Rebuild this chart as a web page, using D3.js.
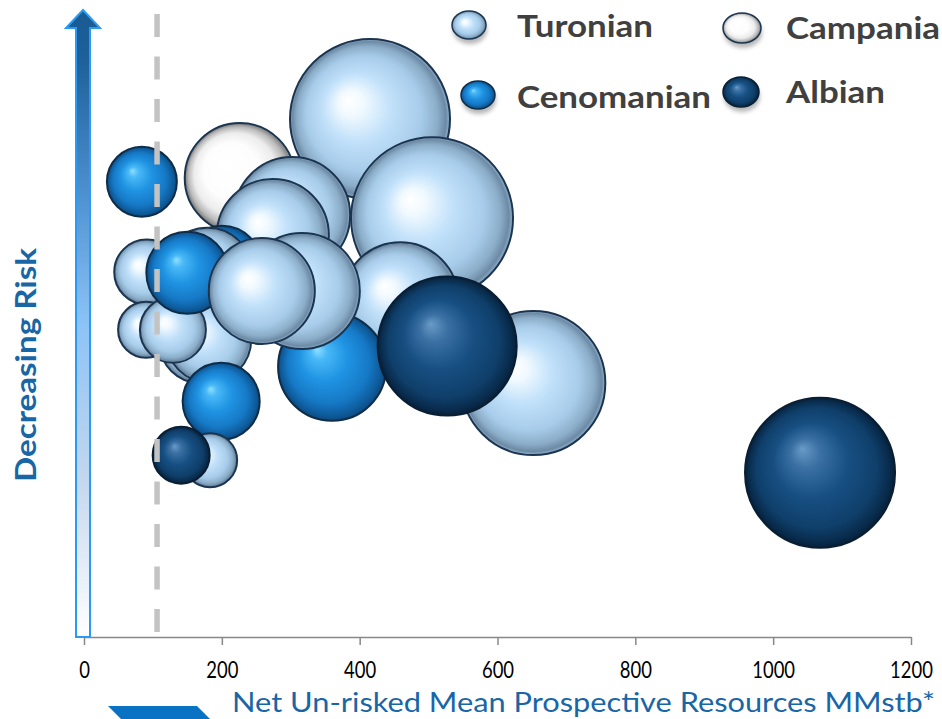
<!DOCTYPE html>
<html>
<head>
<meta charset="utf-8">
<script src="https://cdn.jsdelivr.net/npm/d3@7"></script>
<style>
  body { margin: 0; background: #ffffff; }
  svg { display: block; }
</style>
</head>
<body>
<svg id="chart" width="942" height="719"></svg>
<script>
// Prospects, listed in drawing order (back to front)
const stages = [
  "Campania", "Turonian", "Turonian", "Turonian", "Turonian", "Cenomanian",
  "Turonian", "Cenomanian", "Cenomanian", "Turonian", "Turonian", "Turonian",
  "Turonian", "Turonian", "Turonian", "Turonian", "Cenomanian", "Turonian",
  "Cenomanian", "Turonian", "Albian", "Turonian", "Albian", "Albian"
];
// Net un-risked mean prospective resources, MMstb
const resources = [
  226, 415, 302, 274, 505, 84,
  459, 360, 200, 179, 91, 168,
  181, 90, 129, 316, 150, 258,
  199, 652, 527, 183, 141, 1068
];
// Position on the decreasing-risk scale (0 = highest risk)
const riskScore = [
  73.2, 82.6, 67.3, 64.1, 66.8, 72.6,
  53.7, 43.1, 59.2, 58.1, 58.2, 46.9,
  47.4, 49.0, 49.0, 55.2, 58.1, 55.2,
  37.6, 40.5, 46.4, 28.2, 29.0, 26.2
];
// Bubble size values
const sizes = [
  473, 1000, 526, 490, 1025, 191,
  526, 456, 250, 316, 165, 250,
  282, 122, 170, 526, 263, 439,
  232, 810, 755, 114, 127, 879
];

const legendStages = ["Turonian", "Campania", "Cenomanian", "Albian"];
const xTicks = [0, 200, 400, 600, 800, 1000, 1200];
const economicCutoff = 106;
const xTitle = "Net Un-risked Mean Prospective Resources MMstb*";
const yTitle = "Decreasing Risk";

const bubbles = stages.map((s, i) => ({
  stage: s, x: resources[i], y: riskScore[i], size: sizes[i]
}));

const svg = d3.select("#chart");
const defs = svg.append("defs");

const x = d3.scaleLinear().domain([0, 1200]).range([84, 911]);
const y = d3.scaleLinear().domain([0, 100]).range([637, 10]);
const r = d3.scaleSqrt().domain([0, 1000]).range([0, 80]);

// Sphere shading per stage
const shading = {
  Turonian: { fx: 0.36, fy: 0.38, stops: [
    [0, "#ffffff"], [0.15, "#f2faff"], [0.42, "#c2e1fa"], [0.72, "#a7ccea"],
    [0.88, "#8badc8"], [0.96, "#6d8aa5"], [1, "#93b3cf"]], stroke: "#1b3550" },
  Campania: { fx: 0.34, fy: 0.36, stops: [
    [0, "#ffffff"], [0.5, "#fdfdfd"], [0.75, "#ececec"], [0.9, "#b9b9b9"],
    [0.97, "#8a8a8a"], [1, "#a8a8a8"]], stroke: "#1b3550" },
  Cenomanian: { fx: 0.36, fy: 0.34, stops: [
    [0, "#8fe0ff"], [0.15, "#48b8f7"], [0.45, "#1f93e2"], [0.75, "#1679c6"],
    [0.92, "#0e5c9c"], [1, "#0b4a80"]], stroke: "#102d48" },
  Albian: { fx: 0.38, fy: 0.34, stops: [
    [0, "#6a9bc8"], [0.2, "#3a70a3"], [0.5, "#174f82"], [0.8, "#0f3f6a"],
    [0.95, "#082a4a"], [1, "#061f38"]], stroke: "#0a1e33" }
};

Object.entries(shading).forEach(([name, s]) => {
  const g = defs.append("radialGradient")
    .attr("id", "ball-" + name)
    .attr("cx", 0.5).attr("cy", 0.5).attr("r", 0.5)
    .attr("fx", s.fx).attr("fy", s.fy);
  s.stops.forEach(([o, c]) => g.append("stop").attr("offset", o).attr("stop-color", c));
});

// Gradient for the vertical risk arrow
const arrowGrad = defs.append("linearGradient")
  .attr("id", "arrowFill").attr("x1", 0).attr("y1", 0).attr("x2", 0).attr("y2", 1);
[[0, "#195a92"], [0.08, "#1d609b"], [0.3, "#4f92d2"], [0.5, "#8cc3f6"],
 [0.75, "#c4d7ee"], [1, "#ffffff"]].forEach(([o, c]) =>
  arrowGrad.append("stop").attr("offset", o).attr("stop-color", c));

const shadow = defs.append("filter").attr("id", "softShadow")
  .attr("x", "-50%").attr("y", "-50%").attr("width", "200%").attr("height", "200%");
shadow.append("feGaussianBlur").attr("stdDeviation", 2.2);

// X axis
const xAxis = svg.append("g")
  .attr("transform", `translate(0,${y(0)})`)
  .call(d3.axisBottom(x).tickValues(xTicks).tickFormat(d3.format("d"))
    .tickSize(8).tickSizeOuter(0).tickPadding(16));
xAxis.select(".domain").attr("stroke", "#888888").attr("stroke-width", 1.5);
xAxis.selectAll(".tick line").attr("stroke", "#888888").attr("stroke-width", 1.5);
xAxis.selectAll(".tick text")
  .attr("font-family", "Lato, 'Open Sans', sans-serif")
  .attr("font-size", 24)
  .attr("fill", "#000000")
  .attr("textLength", d => 10.7 * String(d).length)
  .attr("lengthAdjust", "spacingAndGlyphs");

// Bubbles
svg.append("g").selectAll("circle")
  .data(bubbles)
  .join("circle")
  .attr("cx", d => x(d.x))
  .attr("cy", d => y(d.y))
  .attr("r", d => r(d.size))
  .attr("fill", d => `url(#ball-${d.stage})`)
  .attr("stroke", d => shading[d.stage].stroke)
  .attr("stroke-width", 2);

// Economic cut-off line
svg.append("line")
  .attr("x1", x(economicCutoff)).attr("x2", x(economicCutoff))
  .attr("y1", 14).attr("y2", y(0))
  .attr("stroke", "#c3c3c3")
  .attr("stroke-width", 5.5)
  .attr("stroke-dasharray", "23,19.5");

// Decreasing risk arrow
const ax = x(0) - 1;
svg.append("path")
  .attr("d", `M${ax - 7},${y(0)} L${ax - 7},28 L${ax - 17},28 L${ax},10 L${ax + 17},28 L${ax + 7},28 L${ax + 7},${y(0)} Z`)
  .attr("fill", "url(#arrowFill)")
  .attr("stroke", "#2a9af2")
  .attr("stroke-width", 2)
  .attr("stroke-linejoin", "miter");

svg.append("text")
  .attr("transform", "translate(25,365) rotate(-90)")
  .attr("text-anchor", "middle")
  .attr("dominant-baseline", "central")
  .attr("font-family", "Lato, 'Open Sans', sans-serif")
  .attr("font-weight", 700)
  .attr("font-size", 28)
  .attr("textLength", 234)
  .attr("lengthAdjust", "spacingAndGlyphs")
  .attr("fill", "#1866a6")
  .text(yTitle);

// X axis title and its marker
svg.append("path")
  .attr("d", "M108,706 L197,706 L210,719 L121,719 Z")
  .attr("fill", "#0a72c2");

svg.append("text")
  .attr("x", 232).attr("y", 712)
  .attr("font-family", "Lato, 'Open Sans', sans-serif")
  .attr("font-size", 26)
  .attr("textLength", 703)
  .attr("lengthAdjust", "spacingAndGlyphs")
  .attr("fill", "#1866a6")
  .text(xTitle);

// Legend
const legendPos = {
  Turonian:   { bx: 469, by: 25, rx: 17, ry: 14, tx: 517, ty: 37, w: 136 },
  Campania:   { bx: 742, by: 28, rx: 19, ry: 15, tx: 786, ty: 39, w: 154 },
  Cenomanian: { bx: 478, by: 95, rx: 17, ry: 14, tx: 517, ty: 108, w: 194 },
  Albian:     { bx: 741, by: 92, rx: 18, ry: 15, tx: 786, ty: 103, w: 99 }
};
const legend = svg.append("g");
legendStages.forEach(s => {
  const p = legendPos[s];
  legend.append("ellipse")
    .attr("cx", p.bx + 1).attr("cy", p.by + 5).attr("rx", p.rx).attr("ry", p.ry)
    .attr("fill", "#7d7d7d").attr("opacity", 0.55)
    .attr("filter", "url(#softShadow)");
  legend.append("ellipse")
    .attr("cx", p.bx).attr("cy", p.by).attr("rx", p.rx).attr("ry", p.ry)
    .attr("fill", `url(#ball-${s})`)
    .attr("stroke", shading[s].stroke).attr("stroke-width", 1.5);
  legend.append("text")
    .attr("x", p.tx).attr("y", p.ty)
    .attr("font-family", "Lato, 'Open Sans', sans-serif")
    .attr("font-weight", 700)
    .attr("font-size", 31)
    .attr("textLength", p.w)
    .attr("lengthAdjust", "spacingAndGlyphs")
    .attr("fill", "#404040")
    .text(s);
});
</script>
</body>
</html>
